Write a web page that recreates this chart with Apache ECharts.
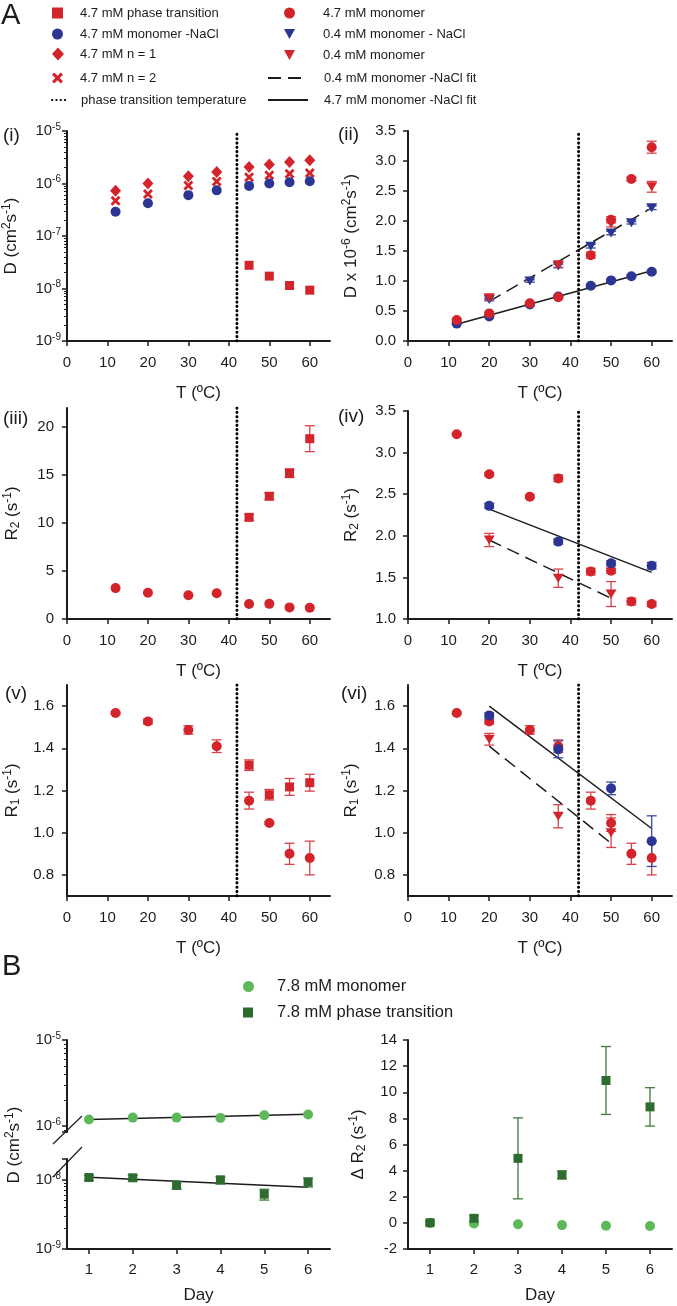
<!DOCTYPE html>
<html><head><meta charset="utf-8">
<script src="https://cdn.jsdelivr.net/npm/echarts@6/dist/echarts.min.js"></script>
<style>html,body{margin:0;padding:0;background:#fff}#c{width:677px;height:1306px}</style>
</head><body><div id="c"></div>
<script>
// ================= DATA =================
const tempsAll = [12, 20, 30, 37, 45, 50, 55, 60];
const tempsPhase = [45, 50, 55, 60];
const tempsLowNaCl = [20, 30, 37, 45, 50, 55, 60];
const tempsLowMono = [20, 37, 50, 60];
const tempsNaClR = [20, 37, 50, 60];
const tempsLowMonoR = [20, 37, 50];
const transitionT = 42;
const tempTicks = [0, 10, 20, 30, 40, 50, 60];

// (i) D (cm2 s-1), log
const iN1 = [7.3e-7, 1.0e-6, 1.38e-6, 1.65e-6, 2.06e-6, 2.29e-6, 2.57e-6, 2.77e-6];
const iN2 = [4.7e-7, 6.3e-7, 9.2e-7, 1.09e-6, 1.32e-6, 1.43e-6, 1.54e-6, 1.58e-6];
const iMonoNaCl = [2.9e-7, 4.2e-7, 6.0e-7, 7.4e-7, 9.0e-7, 1.0e-6, 1.06e-6, 1.1e-6];
const iPhase = [2.77e-8, 1.72e-8, 1.14e-8, 9.3e-9];

// (ii) D x 1e-6
const iiMono = [0.35, 0.46, 0.63, 0.73, 1.43, 2.02, 2.70, 3.23];
const iiMonoErr = [0.02, 0.02, 0.02, 0.02, 0.05, 0.05, 0.03, 0.10];
const iiMonoNaCl = [0.29, 0.41, 0.61, 0.74, 0.92, 1.01, 1.08, 1.155];
const iiMonoNaClErr = [0.01, 0.01, 0.01, 0.01, 0.02, 0.02, 0.02, 0.02];
const iiLowNaCl = [0.69, 1.00, 1.25, 1.58, 1.80, 1.97, 2.22];
const iiLowNaClErr = [0.02, 0.02, 0.03, 0.03, 0.03, 0.02, 0.03];
const iiLowMono = [0.72, 1.27, 1.96, 2.57];
const iiLowMonoErr = [0.03, 0.04, 0.06, 0.09];
const iiFitHighT = [12, 60], iiFitHigh = [0.28, 1.17];
const iiFitLowT = [20, 60], iiFitLow = [0.66, 2.22];

// (iii) R2
const iiiMono = [3.22, 2.74, 2.47, 2.69, 1.57, 1.58, 1.21, 1.18];
const iiiPhase = [10.6, 12.8, 15.2, 18.8];
const iiiPhaseErr = [0.3, 0.35, 0.45, 1.35];
const iiiTicks = [0, 5, 10, 15, 20];

// (iv) R2
const ivMono = [3.22, 2.74, 2.47, 2.69, 1.57, 1.58, 1.21, 1.18];
const ivMonoErr = [0.01, 0.02, 0.02, 0.04, 0.04, 0.03, 0.04, 0.03];
const ivMonoNaCl = [2.36, 1.93, 1.67, 1.64];
const ivMonoNaClErr = [0.03, 0.03, 0.03, 0.04];
const ivLowMono = [1.95, 1.49, 1.30];
const ivLowMonoErr = [0.08, 0.11, 0.15];
const ivFitHighT = [20, 60], ivFitHigh = [2.32, 1.56];
const ivFitLowT = [20, 50], ivFitLow = [1.95, 1.25];

// (v) R1
const vMono = [1.567, 1.527, 1.487, 1.41, 1.152, 1.046, 0.90, 0.88];
const vMonoErr = [0.005, 0.012, 0.02, 0.03, 0.04, 0.006, 0.05, 0.08];
const vPhase = [1.32, 1.18, 1.217, 1.237];
const vPhaseErr = [0.025, 0.025, 0.04, 0.04];
const r1Ticks = [0.8, 1.0, 1.2, 1.4, 1.6];

// (vi) R1
const viMono = [1.567, 1.527, 1.487, 1.41, 1.152, 1.046, 0.90, 0.88];
const viMonoErr = [0.005, 0.012, 0.02, 0.03, 0.04, 0.04, 0.05, 0.08];
const viMonoNaCl = [1.556, 1.395, 1.21, 0.96];
const viMonoNaClErr = [0.012, 0.04, 0.03, 0.12];
const viLowMono = [1.443, 1.078, 1.0];
const viLowMonoErr = [0.028, 0.055, 0.07];
const viFitHighT = [20, 60], viFitHigh = [1.60, 1.02];
const viFitLowT = [20, 50], viFitLow = [1.41, 0.95];

// B
const days = [1, 2, 3, 4, 5, 6];
const dayFitT = [1, 6];
const bDMono = [1.19e-6, 1.25e-6, 1.25e-6, 1.24e-6, 1.33e-6, 1.36e-6];
const bDMonoFit = [1.19e-6, 1.37e-6];
const bDPhase = [1.08e-8, 1.07e-8, 8.4e-9, 1.0e-8, 6.2e-9, 9.3e-9];
const bDPhaseLo = [9.8e-9, 9.7e-9, 7.3e-9, 8.7e-9, 5.1e-9, 7.9e-9];
const bDPhaseHi = [1.16e-8, 1.16e-8, 9.4e-9, 1.1e-8, 7.3e-9, 1.06e-8];
const bDPhaseFit = [1.09e-8, 7.8e-9];
const bR2Mono = [0.0, -0.05, -0.1, -0.17, -0.22, -0.24];
const bR2Phase = [0.01, 0.35, 4.94, 3.67, 10.9, 8.88];
const bR2PhaseErr = [0.15, 0.2, 3.1, 0.3, 2.6, 1.47];

// ================= STYLE =================
const FONT = "'Liberation Sans', Arial, sans-serif";
const INK = '#1c1c1c';
const RED = '#d3232b', RED_ERR = '#d8434b';
const BLUE = '#2c3593', BLUE_ERR = '#3d49a6';
const LG = '#5db85a', DG = '#2e6b31', DG_ERR = '#3d7a3d';
const CLEAR = 'rgba(0,0,0,0)';
const SYM = {
  circle: ['circle', 10],
  square: ['rect', 9],
  diamond: ['diamond', [11, 12]],
  cross: ['path://M0,2L2,0L5,3L8,0L10,2L7,5L10,8L8,10L5,7L2,10L0,8L3,5Z', 10],
  tri: ['path://M0,0L10,0L5,9Z', [11, 10]]
};
const RICH = {
  sup: { fontSize: 10, lineHeight: 10, verticalAlign: 'top', fontFamily: FONT, color: INK },
  sub: { fontSize: 10, lineHeight: 8, verticalAlign: 'bottom', fontFamily: FONT, color: INK }
};
const RICHN = {
  sup: { fontSize: 12, lineHeight: 12, verticalAlign: 'top', fontFamily: FONT, color: INK },
  sub: { fontSize: 12, lineHeight: 8, verticalAlign: 'bottom', fontFamily: FONT, color: INK }
};

const series = [];
function pts(xs, ys) { return xs.map((x, i) => [x, ys[i]]); }
function errRender(color) {
  return function (params, api) {
    const x = api.value(0);
    const a = api.coord([x, api.value(1)]), b = api.coord([x, api.value(2)]);
    const st = { stroke: color, lineWidth: 1.3 };
    return { type: 'group', children: [
      { type: 'line', shape: { x1: a[0], y1: a[1], x2: b[0], y2: b[1] }, style: st },
      { type: 'line', shape: { x1: a[0] - 5, y1: a[1], x2: a[0] + 5, y2: a[1] }, style: st },
      { type: 'line', shape: { x1: b[0] - 5, y1: b[1], x2: b[0] + 5, y2: b[1] }, style: st }
    ]};
  };
}
function addScatter(name, gi, xs, ys, sym, color, z) {
  series.push({ type: 'scatter', name, xAxisIndex: gi, yAxisIndex: gi, data: pts(xs, ys),
    symbol: SYM[sym][0], symbolSize: SYM[sym][1], symbolKeepAspect: true, itemStyle: { color, opacity: 1 },
    z: z || 3, silent: true, emphasis: { disabled: true } });
}
function addErrLH(gi, xs, lo, hi, color) {
  series.push({ type: 'custom', name: 'errorbar', xAxisIndex: gi, yAxisIndex: gi,
    data: xs.map((x, i) => [x, lo[i], hi[i]]), renderItem: errRender(color),
    encode: { x: 0, y: [1, 2] }, z: 2, silent: true });
}
function addErr(gi, xs, ys, es, color) {
  addErrLH(gi, xs, ys.map((y, i) => y - es[i]), ys.map((y, i) => y + es[i]), color);
}
function addLine(name, gi, xs, ys, kind) {
  const ls = { color: INK, width: 1.5, type: 'solid' };
  if (kind === 'dashed') ls.type = [13, 7];
  if (kind === 'dotted') { ls.type = [0.3, 4.0]; ls.cap = 'round'; ls.width = 2.9; ls.color = '#000'; }
  series.push({ type: 'line', name, xAxisIndex: gi, yAxisIndex: gi, data: pts(xs, ys),
    symbol: 'none', showSymbol: false, lineStyle: ls, itemStyle: { color: CLEAR, borderColor: CLEAR, borderWidth: 0 },
    z: 1, silent: true, emphasis: { disabled: true } });
}

// ---- series ----
const N_PT = '4.7 mM phase transition', N_MNACL = '4.7 mM monomer -NaCl', N_N1 = '4.7 mM n = 1',
  N_N2 = '4.7 mM n = 2', N_TT = 'phase transition temperature', N_M = '4.7 mM monomer',
  N_LNACL = '0.4 mM monomer - NaCl', N_LM = '0.4 mM monomer', N_FL = '0.4 mM monomer -NaCl fit',
  N_FH = '4.7 mM monomer -NaCl fit', N_B1 = '7.8 mM monomer', N_B2 = '7.8 mM phase transition';

// (i)
addLine(N_TT, 0, [transitionT, transitionT], [1e-9, 1e-5], 'dotted');
addScatter(N_N1, 0, tempsAll, iN1, 'diamond', RED);
addScatter(N_N2, 0, tempsAll, iN2, 'cross', RED);
addScatter(N_MNACL, 0, tempsAll, iMonoNaCl, 'circle', BLUE);
addScatter(N_PT, 0, tempsPhase, iPhase, 'square', RED);
// (ii)
addLine(N_TT, 1, [transitionT, transitionT], [0, 3.5], 'dotted');
addLine(N_FH, 1, iiFitHighT, iiFitHigh, 'solid');
addLine(N_FL, 1, iiFitLowT, iiFitLow, 'dashed');
addErr(1, tempsAll, iiMonoNaCl, iiMonoNaClErr, BLUE_ERR);
addErr(1, tempsLowNaCl, iiLowNaCl, iiLowNaClErr, BLUE_ERR);
addErr(1, tempsAll, iiMono, iiMonoErr, RED_ERR);
addErr(1, tempsLowMono, iiLowMono, iiLowMonoErr, RED_ERR);
addScatter(N_MNACL, 1, tempsAll, iiMonoNaCl, 'circle', BLUE);
addScatter(N_LNACL, 1, tempsLowNaCl, iiLowNaCl, 'tri', BLUE);
addScatter(N_M, 1, tempsAll, iiMono, 'circle', RED, 4);
addScatter(N_LM, 1, tempsLowMono, iiLowMono, 'tri', RED, 4);
// (iii)
addLine(N_TT, 2, [transitionT, transitionT], [0, 22], 'dotted');
addErr(2, tempsPhase, iiiPhase, iiiPhaseErr, RED_ERR);
addScatter(N_M, 2, tempsAll, iiiMono, 'circle', RED);
addScatter(N_PT, 2, tempsPhase, iiiPhase, 'square', RED);
// (iv)
addLine(N_TT, 3, [transitionT, transitionT], [1, 3.5], 'dotted');
addLine(N_FH, 3, ivFitHighT, ivFitHigh, 'solid');
addLine(N_FL, 3, ivFitLowT, ivFitLow, 'dashed');
addErr(3, tempsAll, ivMono, ivMonoErr, RED_ERR);
addErr(3, tempsNaClR, ivMonoNaCl, ivMonoNaClErr, BLUE_ERR);
addErr(3, tempsLowMonoR, ivLowMono, ivLowMonoErr, RED_ERR);
addScatter(N_M, 3, tempsAll, ivMono, 'circle', RED);
addScatter(N_MNACL, 3, tempsNaClR, ivMonoNaCl, 'circle', BLUE);
addScatter(N_LM, 3, tempsLowMonoR, ivLowMono, 'tri', RED);
// (v)
addLine(N_TT, 4, [transitionT, transitionT], [0.7, 1.7], 'dotted');
addErr(4, tempsAll, vMono, vMonoErr, RED_ERR);
addErr(4, tempsPhase, vPhase, vPhaseErr, RED_ERR);
addScatter(N_M, 4, tempsAll, vMono, 'circle', RED);
addScatter(N_PT, 4, tempsPhase, vPhase, 'square', RED);
// (vi)
addLine(N_TT, 5, [transitionT, transitionT], [0.7, 1.7], 'dotted');
addLine(N_FH, 5, viFitHighT, viFitHigh, 'solid');
addLine(N_FL, 5, viFitLowT, viFitLow, 'dashed');
addErr(5, tempsAll, viMono, viMonoErr, RED_ERR);
addErr(5, tempsLowMonoR, viLowMono, viLowMonoErr, RED_ERR);
addErr(5, tempsNaClR, viMonoNaCl, viMonoNaClErr, BLUE_ERR);
addScatter(N_M, 5, tempsAll, viMono, 'circle', RED);
addScatter(N_LM, 5, tempsLowMonoR, viLowMono, 'tri', RED);
addScatter(N_MNACL, 5, tempsNaClR, viMonoNaCl, 'circle', BLUE, 4);
// B left
addLine('fit', 6, dayFitT, bDMonoFit, 'solid');
addScatter(N_B1, 6, days, bDMono, 'circle', LG);
addLine('fit', 7, dayFitT, bDPhaseFit, 'solid');
addErrLH(7, days, bDPhaseLo, bDPhaseHi, DG_ERR);
addScatter(N_B2, 7, days, bDPhase, 'square', DG);
// B right
addErr(8, days, bR2Phase, bR2PhaseErr, DG_ERR);
addScatter(N_B1, 8, days, bR2Mono, 'circle', LG);
addScatter(N_B2, 8, days, bR2Phase, 'square', DG, 4);

// ================= AXES / LAYOUT =================
const gridRects = [
  [67, 131, 263, 210], [408, 131, 264, 210],
  [67, 408, 263, 211], [408, 411, 264, 208],
  [67, 685, 263, 211], [408, 685, 264, 211],
  [67, 1040, 263, 92], [67, 1159, 263, 90], [408, 1040, 264, 209]
];
const lineStyleAx = { color: INK, width: 2 };
const tickStyle = { show: true, inside: false, length: 5, lineStyle: { color: INK, width: 1.5 } };
function labelStyle(margin, extra) {
  return Object.assign({ color: INK, fontSize: 15, fontFamily: FONT, margin, lineHeight: 18, rich: RICH }, extra || {});
}
function nameStyle() { return { color: INK, fontSize: 17, fontFamily: FONT, lineHeight: 20, rich: RICHN }; }
function logLabel(v) {
  const e = Math.log10(v), r = Math.round(e);
  if (Math.abs(e - r) > 1e-6) return '';
  return '10{sup|' + r + '}';
}
const xAxes = [], yAxes = [];
for (let g = 0; g < 6; g++) {
  xAxes.push({ type: 'value', gridIndex: g, min: 0, max: 65, name: 'T (ºC)', nameLocation: 'middle', nameGap: 42,
    nameTextStyle: nameStyle(), axisLine: { onZero: false, lineStyle: lineStyleAx }, axisTick: Object.assign({ customValues: tempTicks }, tickStyle),
    axisLabel: labelStyle(13, { customValues: tempTicks }), splitLine: { show: false } });
}
xAxes.push({ type: 'value', gridIndex: 6, min: 0.5, max: 6.5, show: false });
for (const g of [7, 8]) {
  xAxes.push({ type: 'value', gridIndex: g, min: 0.5, max: 6.5, name: 'Day', nameLocation: 'middle', nameGap: 36,
    nameTextStyle: nameStyle(), axisLine: { onZero: false, lineStyle: lineStyleAx }, axisTick: Object.assign({ customValues: days }, tickStyle),
    axisLabel: labelStyle(12, { customValues: days }), splitLine: { show: false } });
}
const dName = 'D (cm{sup|2}s{sup|-1})';
function yBase(g, extra) {
  return Object.assign({ gridIndex: g, nameLocation: 'middle', nameTextStyle: nameStyle(),
    axisLine: { show: true, onZero: false, lineStyle: lineStyleAx }, axisTick: tickStyle, splitLine: { show: false } }, extra);
}
const minor = { show: true, splitNumber: 9, length: 3, lineStyle: { color: INK, width: 1 } };
yAxes.push(yBase(0, { type: 'log', logBase: 10, min: 1e-9, max: 1e-5, name: dName, nameGap: 46,
  axisLabel: labelStyle(6, { formatter: logLabel }), minorTick: minor }));
yAxes.push(yBase(1, { type: 'value', min: 0, max: 3.5, interval: 0.5, name: 'D x 10{sup|-6} (cm{sup|2}s{sup|-1})', nameGap: 47,
  axisLabel: labelStyle(12, { formatter: v => v.toFixed(1) }) }));
yAxes.push(yBase(2, { type: 'value', min: 0, max: 22, name: 'R{sub|2} (s{sup|-1})', nameGap: 45,
  axisTick: Object.assign({ customValues: iiiTicks }, tickStyle), axisLabel: labelStyle(13, { customValues: iiiTicks }) }));
yAxes.push(yBase(3, { type: 'value', min: 1, max: 3.5, interval: 0.5, name: 'R{sub|2} (s{sup|-1})', nameGap: 47,
  axisLabel: labelStyle(12, { formatter: v => v.toFixed(1) }) }));
for (const g of [4, 5]) {
  yAxes.push(yBase(g, { type: 'value', min: 0.7, max: 1.7, name: 'R{sub|1} (s{sup|-1})', nameGap: g === 4 ? 45 : 47,
    axisTick: Object.assign({ customValues: r1Ticks }, tickStyle),
    axisLabel: labelStyle(13, { customValues: r1Ticks, formatter: v => v.toFixed(1) }) }));
}
yAxes.push(yBase(6, { type: 'log', logBase: 10, min: 8.5e-7, max: 1e-5,
  axisLabel: labelStyle(6, { formatter: logLabel }), minorTick: minor }));
yAxes.push(yBase(7, { type: 'log', logBase: 10, min: 1e-9, max: 2e-8,
  axisLabel: labelStyle(6, { formatter: logLabel }), minorTick: minor }));
yAxes.push(yBase(8, { type: 'value', min: -2, max: 14, interval: 2, name: 'Δ R{sub|2} (s{sup|-1})', nameGap: 40,
  axisLabel: labelStyle(11) }));

// ---- legends: [name, iconLeft, centerY, iconWidth, textPadLeft] ----
const legendRows = [
  [N_PT, 52, 12, 11, 12], [N_MNACL, 52, 33, 11, 12], [N_N1, 52, 54, 12, 11], [N_N2, 52, 77, 11, 12],
  [N_TT, 51, 99, 14, 10],
  [N_M, 284, 12, 11, 23], [N_LNACL, 284, 33, 11, 23], [N_LM, 284, 54, 11, 23],
  [N_FL, 267, 77, 40, 11], [N_FH, 267, 99, 40, 11]
];
const legends = legendRows.map(r => ({
  data: [r[0]], left: r[1], top: r[2] - (r[0] === N_N1 ? 6.5 : 5.5), itemWidth: r[3], itemHeight: r[0] === N_N1 ? 13 : 11, padding: 0,
  selectedMode: false, textStyle: { fontSize: 13, fontFamily: FONT, color: INK, padding: [0, 0, 0, r[4]] }
}));
legends.push({ data: [N_B1], left: 243, top: 978, itemWidth: 11, itemHeight: 11, padding: 0, selectedMode: false,
  textStyle: { fontSize: 16.5, fontFamily: FONT, color: INK, padding: [0, 0, 0, 18] } });
legends.push({ data: [N_B2], left: 243, top: 1004, itemWidth: 10, itemHeight: 10, padding: 0, selectedMode: false,
  textStyle: { fontSize: 16.5, fontFamily: FONT, color: INK, padding: [0, 0, 0, 19] } });

// ---- decorations ----
function panelText(t, x, y, size) {
  return { type: 'text', x, y, style: { text: t, fontSize: size, fontFamily: FONT, fill: INK, verticalAlign: 'middle' } };
}
const graphic = [
  panelText('A', 1, 16, 29), panelText('B', 2, 967, 29),
  panelText('(i)', 3, 136, 19), panelText('(ii)', 338, 135, 19),
  panelText('(iii)', 3, 419, 19), panelText('(iv)', 338, 417, 19),
  panelText('(v)', 5, 694, 19), panelText('(vi)', 341, 694, 19),
  { type: 'text', x: 14, y: 1145, rotation: Math.PI / 2,
    style: { text: dName, fontSize: 17, fontFamily: FONT, fill: INK, align: 'center', verticalAlign: 'middle', lineHeight: 20, rich: RICHN } },
  { type: 'line', shape: { x1: 53, y1: 1144, x2: 82, y2: 1116 }, style: { stroke: INK, lineWidth: 1.2 } },
  { type: 'line', shape: { x1: 53, y1: 1177, x2: 82, y2: 1147 }, style: { stroke: INK, lineWidth: 1.2 } }
];

const chart = echarts.init(document.getElementById('c'), null, { renderer: 'canvas' });
chart.setOption({
  animation: false,
  backgroundColor: '#fff',
  textStyle: { fontFamily: FONT },
  grid: gridRects.map(r => ({ left: r[0], top: r[1], width: r[2], height: r[3], containLabel: false, outerBoundsMode: 'none' })),
  xAxis: xAxes, yAxis: yAxes, legend: legends, series, graphic
});
</script></body></html>
